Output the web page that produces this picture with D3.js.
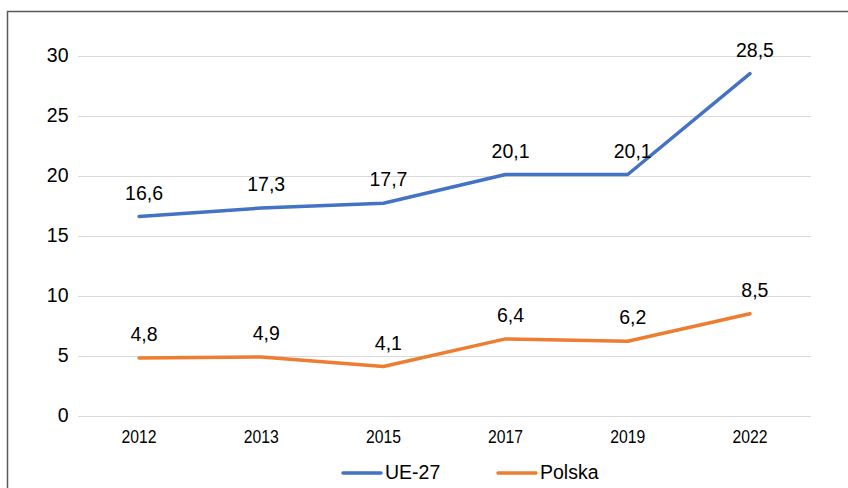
<!DOCTYPE html>
<html>
<head>
<meta charset="utf-8">
<script src="https://cdn.jsdelivr.net/npm/d3@7"></script>
<style>
  body { margin: 0; background: #fff; }
  svg { display: block; font-family: "Liberation Sans", Arial, sans-serif; }
</style>
</head>
<body>
<div id="chart"></div>
<script>
// data
const years = ['2012', '2013', '2015', '2017', '2019', '2022'];
const ue27 = [16.6, 17.3, 17.7, 20.1, 20.1, 28.5];
const polska = [4.8, 4.9, 4.1, 6.4, 6.2, 8.5];
const yTicks = [0, 5, 10, 15, 20, 25, 30];
const seriesNames = ['UE-27', 'Polska'];

const width = 848, height = 488;
const colors = ['#4472C4', '#ED7D31'];
const series = [ue27, polska].map((values, i) => ({ name: seriesNames[i], values: values, color: colors[i] }));

const svg = d3.select('#chart').append('svg')
    .attr('width', width)
    .attr('height', height);

// outer frame (right and bottom edge fall outside the picture)
svg.append('rect')
    .attr('x', 7.5).attr('y', 11.5)
    .attr('width', 900).attr('height', 600)
    .attr('fill', 'none')
    .attr('stroke', '#595959')
    .attr('stroke-width', 1.5);

const x = d3.scaleBand().domain(years).range([78, 811]);
const y = d3.scaleLinear().domain([0, 30]).range([415.7, 55.7]);
const fmt = v => String(v.toFixed(1)).replace('.', ',');

// gridlines + y labels
const yAxis = svg.append('g').attr('class', 'y-axis');
yAxis.selectAll('line').data(yTicks).join('line')
    .attr('x1', x.range()[0]).attr('x2', x.range()[1])
    .attr('y1', d => Math.round(y(d)) + 0.5).attr('y2', d => Math.round(y(d)) + 0.5)
    .attr('stroke', '#d9d9d9')
    .attr('stroke-width', 1);
yAxis.selectAll('text').data(yTicks).join('text')
    .attr('x', 68.5)
    .attr('y', d => y(d))
    .attr('dy', '0.33em')
    .attr('text-anchor', 'end')
    .attr('font-size', 19.5)
    .attr('fill', '#000')
    .text(d => d);

// x labels (narrow in the original, so squeeze them a bit)
svg.append('g').attr('class', 'x-axis')
    .selectAll('text').data(years).join('text')
    .attr('x', d => x(d) + x.bandwidth() / 2)
    .attr('y', 443)
    .attr('text-anchor', 'middle')
    .attr('font-size', 17.5)
    .attr('textLength', 35)
    .attr('lengthAdjust', 'spacingAndGlyphs')
    .attr('fill', '#000')
    .text(d => d);

const cx = (_, i) => x(years[i]) + x.bandwidth() / 2;
const line = d3.line().x(cx).y(d => y(d));

const groups = svg.selectAll('.series').data(series).join('g').attr('class', 'series');
groups.append('path')
    .attr('d', s => line(s.values))
    .attr('fill', 'none')
    .attr('stroke', s => s.color)
    .attr('stroke-width', 3.5)
    .attr('stroke-linejoin', 'round')
    .attr('stroke-linecap', 'round');

groups.selectAll('.label').data(s => s.values).join('text')
    .attr('class', 'label')
    .attr('x', (d, i) => cx(d, i) + 5)
    .attr('y', d => y(d) - 17)
    .attr('text-anchor', 'middle')
    .attr('font-size', 19.5)
    .attr('fill', '#000')
    .text(fmt);

// legend
const legendX = [343, 498];
const legend = svg.selectAll('.legend').data(series).join('g')
    .attr('class', 'legend')
    .attr('transform', (_, i) => `translate(${legendX[i]}, 473)`);
legend.append('line')
    .attr('x1', 0).attr('x2', 38)
    .attr('stroke', s => s.color)
    .attr('stroke-width', 3.5)
    .attr('stroke-linecap', 'round');
legend.append('text')
    .attr('x', 42)
    .attr('y', 6)
    .attr('font-size', 19.5)
    .attr('fill', '#000')
    .text(s => s.name);
</script>
</body>
</html>
